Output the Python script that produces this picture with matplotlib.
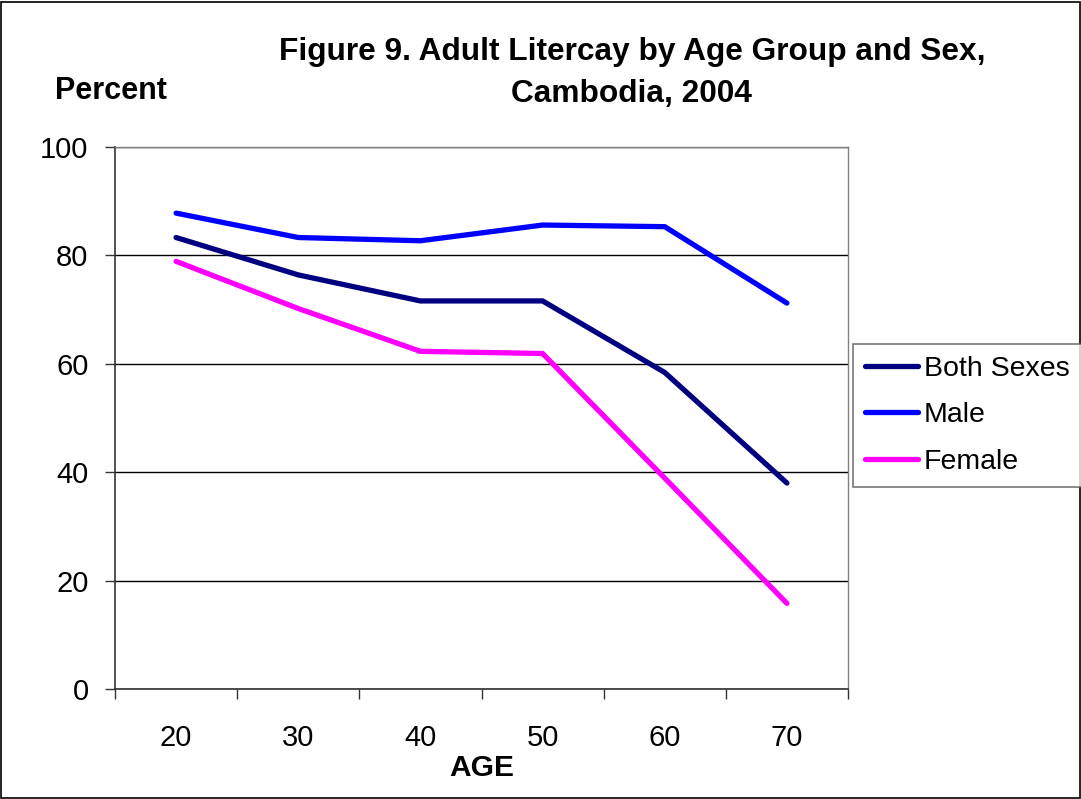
import matplotlib
matplotlib.use("Agg")
import matplotlib.pyplot as plt
from matplotlib.patches import Rectangle
import numpy as np

plt.rcParams['font.family'] = ['Liberation Sans', 'DejaVu Sans']

ages = ["20", "30", "40", "50", "60", "70"]
both_sexes = [83.3, 76.4, 71.6, 71.6, 58.4, 38.0]
male = [87.8, 83.3, 82.7, 85.6, 85.3, 71.2]
female = [78.9, 70.2, 62.3, 61.9, 38.9, 15.8]

W, H = 1081, 799
fig = plt.figure(figsize=(W / 100, H / 100), dpi=100)
L, R, T, B = 115, 848, 147, 689
ax = fig.add_axes([L / W, 1 - B / H, (R - L) / W, (B - T) / H])

x = np.arange(len(ages))
ax.plot(x, both_sexes, color='#000080', lw=3.8, label='Both Sexes', solid_capstyle='round', solid_joinstyle='miter')
ax.plot(x, male, color='#0000FF', lw=3.8, label='Male', solid_capstyle='round', solid_joinstyle='miter')
ax.plot(x, female, color='#FF00FF', lw=3.8, label='Female', solid_capstyle='round', solid_joinstyle='miter')

ax.set_xlim(-0.5, len(ages) - 0.5)
ax.set_ylim(0, 100)
ax.set_yticks([0, 20, 40, 60, 80, 100])
ax.yaxis.grid(True, color='black', lw=1)
ax.set_axisbelow(True)

ax.set_xticks(np.arange(-0.5, len(ages), 1.0))
ax.set_xticklabels([])
ax.set_xticks(x, minor=True)
ax.set_xticklabels(ages, minor=True)
ax.tick_params(axis='x', which='major', length=7, width=1, color='#333333', direction='out')
ax.tick_params(axis='x', which='minor', length=0, pad=25, labelsize=21)
ax.tick_params(axis='y', length=7, width=1, color='#333333', direction='out', pad=12, labelsize=21)

for s in ['top', 'right']:
    ax.spines[s].set_color('#808080')
    ax.spines[s].set_linewidth(1)
for s in ['left', 'bottom']:
    ax.spines[s].set_color('#333333')
    ax.spines[s].set_linewidth(1.2)

fig.text(632 / W, 1 - 52 / H, "Figure 9. Adult Litercay by Age Group and Sex,", ha='center', va='center',
         fontsize=22.8, fontweight='bold')
fig.text(631 / W, 1 - 94 / H, "Cambodia, 2004", ha='center', va='center', fontsize=22.8, fontweight='bold')
fig.text(55 / W, 1 - 91 / H, "Percent", ha='left', va='center', fontsize=22, fontweight='bold')
fig.text(482 / W, 1 - 768 / H, "AGE", ha='center', va='center', fontsize=21.5, fontweight='bold')

leg = fig.legend(loc='upper left', bbox_to_anchor=(853 / W, 1 - 344 / H), fontsize=20.5,
                 frameon=True, fancybox=False, edgecolor='#555555', handlelength=1.85,
                 handletextpad=0.22, labelspacing=0.72, borderpad=0.42, borderaxespad=0)
leg.get_frame().set_linewidth(1.2)

fig.patches.append(Rectangle((0.5 / W, 1.5 / H), (W - 2) / W, (H - 3) / H, transform=fig.transFigure,
                             fill=False, edgecolor='black', lw=1.2))

fig.savefig("out.png", dpi=100)
